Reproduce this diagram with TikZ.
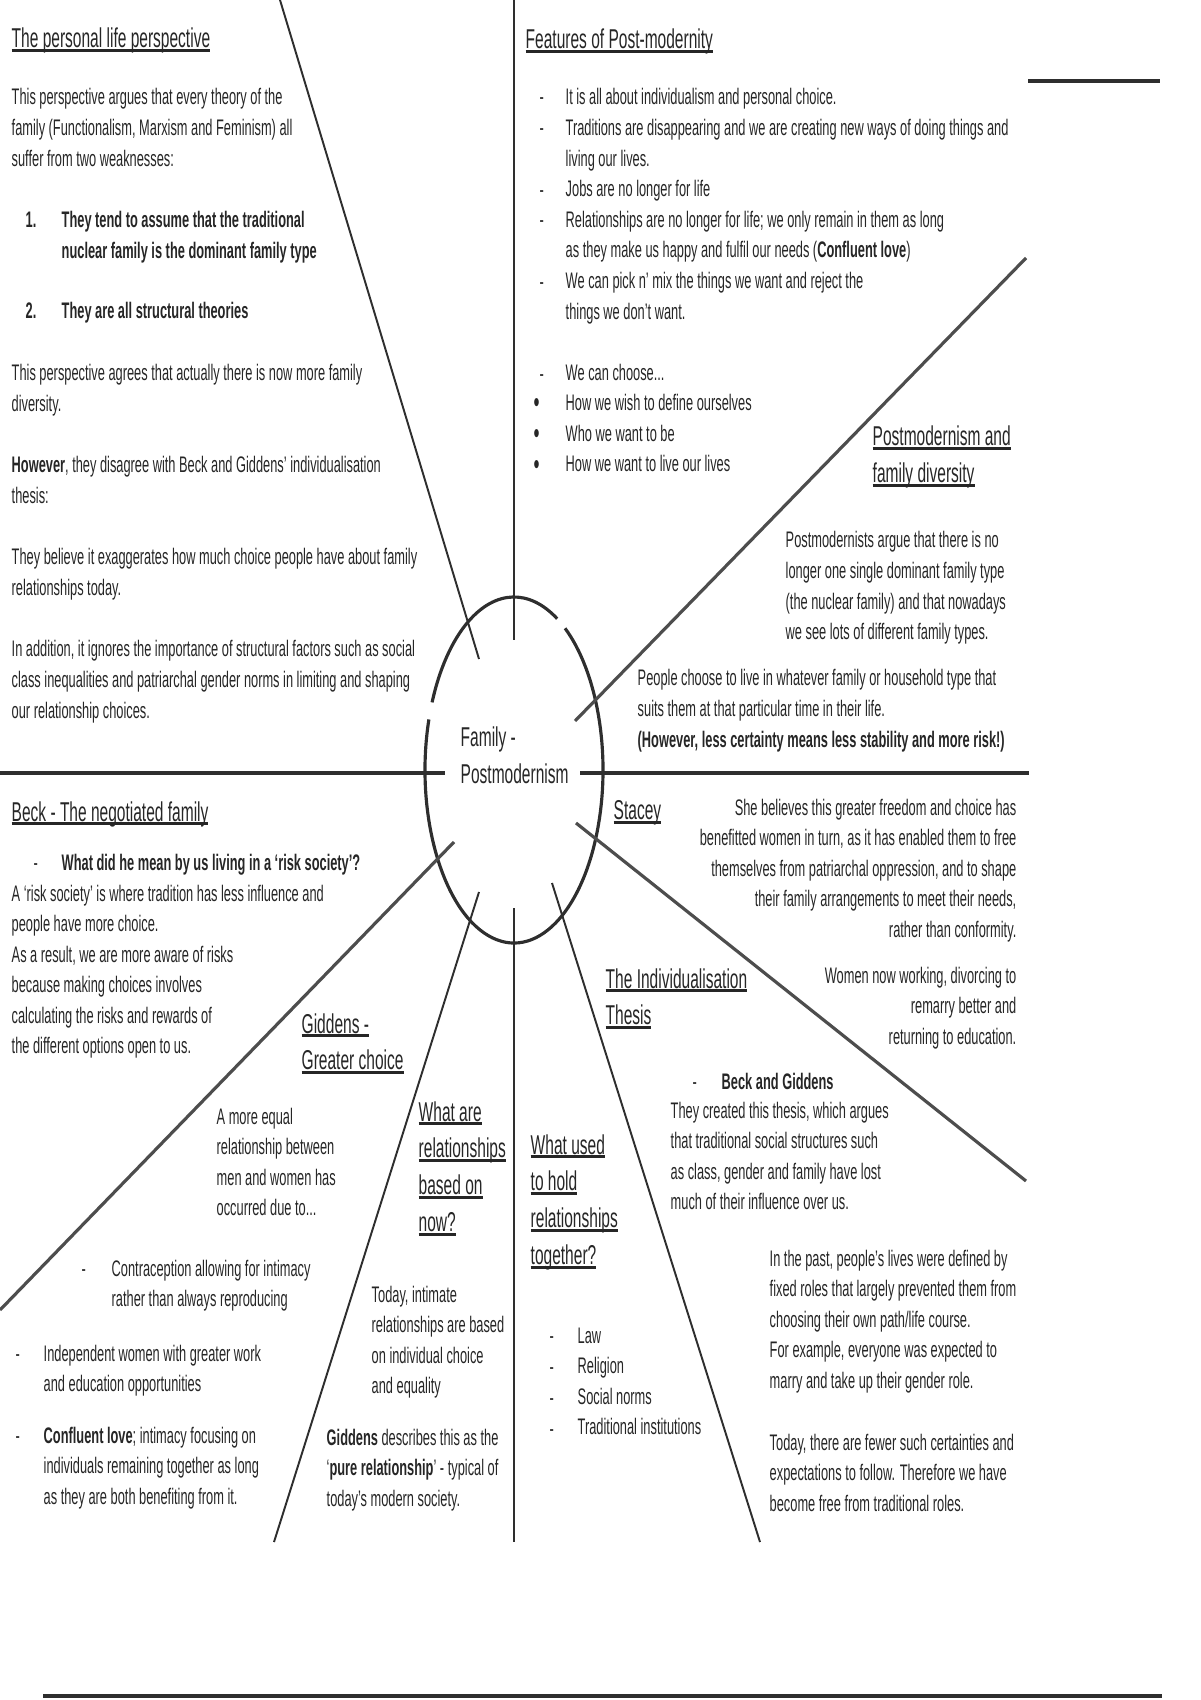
\documentclass[tikz,border=0pt]{standalone}
\usepackage{fontspec}
\setmainfont[FakeStretch=0.57]{Liberation Sans}
\usepackage{tikz}
\usetikzlibrary{positioning}
\definecolor{ink}{HTML}{262626}
\definecolor{wire}{HTML}{2E2E2E}
\newlength\ulhwd
\newcommand\ulh[1]{\settowidth\ulhwd{#1}\rlap{\rule[-1.1pt]{\ulhwd}{0.8pt}}#1}
% first line of a block sits on the node's base
\newcommand\leftlines[1]{\begin{tabular}[t]{@{}l@{}}#1\end{tabular}}
\newcommand\rightlines[1]{\begin{tabular}[t]{@{}r@{}}#1\end{tabular}}

\begin{document}
\begin{tikzpicture}[x=0.1mm,y=-0.1mm,
    bodytext/.style={anchor=base west,inner sep=0pt,text=ink,
                     font=\fontsize{6.4}{8.7}\selectfont},
    boldtext/.style={bodytext,font=\fontsize{6.4}{8.7}\selectfont\bfseries},
    bodytextr/.style={bodytext,anchor=base east},
    headtext/.style={bodytext,font=\fontsize{7.75}{10.5}\selectfont},
    dotmark/.style={bodytext,font=\fontsize{8.5}{8.7}\selectfont},
    spokeline/.style={wire,line width=0.55pt},
    diagline/.style={wire!85,line width=0.9pt},
    crossline/.style={wire,line width=1.2pt},
    ringline/.style={wire,line width=0.9pt}]
    \useasboundingbox (0,0) rectangle (1200,1700);

    % hub and spokes
    \coordinate (hub) at (514,770);
    \draw[ringline] ([shift={(61:8.9mm and 17.3mm)}]hub)
        arc[start angle=61,end angle=157,x radius=8.9mm,y radius=17.3mm];
    \draw[ringline] ([shift={(163:8.9mm and 17.3mm)}]hub)
        arc[start angle=163,end angle=415,x radius=8.9mm,y radius=17.3mm];
    \node[headtext] (hubtext) at (460,747) {\leftlines{Family -\\Postmodernism}};

    \coordinate (nA) at (514,0);     \coordinate (nAi) at (514,640);
    \coordinate (dA) at (280,0);     \coordinate (dAi) at (479,659);
    \coordinate (dB) at (1026,258);  \coordinate (dBi) at (575,721);
    \coordinate (cs1) at (1028,81);  \coordinate (cs2) at (1160,81);
    \coordinate (hL) at (0,773);     \coordinate (hLi) at (445,773);
    \coordinate (hR) at (1029,773);  \coordinate (hRi) at (580,773);
    \coordinate (dD) at (1026,1181); \coordinate (dDi) at (576,823);
    \coordinate (dE) at (760,1542);  \coordinate (dEi) at (552,883);
    \coordinate (sF) at (514,1542);  \coordinate (sFi) at (514,908);
    \coordinate (dG) at (274,1542);  \coordinate (dGi) at (479,892);
    \coordinate (dH) at (0,1310);    \coordinate (dHi) at (454,842);
    \coordinate (base1) at (43,1696); \coordinate (base2) at (1162,1696);

    \draw[spokeline] (nA)--(nAi);
    \draw[spokeline] (dA)--(dAi);
    \draw[diagline] (dB)--(dBi);
    \draw[crossline] (cs1)--(cs2);
    \draw[crossline] (hL)--(hLi);
    \draw[crossline] (hRi)--(hR);
    \draw[diagline] (dDi)--(dD);
    \draw[spokeline] (dEi)--(dE);
    \draw[spokeline] (sFi)--(sF);
    \draw[spokeline] (dGi)--(dG);
    \draw[diagline] (dHi)--(dH);
    \draw[wire,line width=1.3pt] (base1)--(base2);

    % the personal life perspective
    \node[headtext] (plhead) at (11,48) {\ulh{The personal life perspective}};
    \node[bodytext] (plintro) at (11,105) {\leftlines{This perspective argues that every theory of the\\
        family (Functionalism, Marxism and Feminism) all\\suffer from two weaknesses:}};
    \node[boldtext] (pln1) at (25,228) {1.};
    \node[boldtext] (plw1) at (61,228) {\leftlines{They tend to assume that the traditional\\
        nuclear family is the dominant family type}};
    \node[boldtext] (pln2) at (25,319) {2.};
    \node[boldtext] (plw2) at (61,319) {They are all structural theories};
    \node[bodytext] (plagree) at (11,381) {\leftlines{This perspective agrees that actually there is now more family\\diversity.}};
    \node[bodytext] (plhow) at (11,473) {\leftlines{\textbf{However}, they disagree with Beck and Giddens' individualisation\\thesis:}};
    \node[bodytext] (plbel) at (11,565) {\leftlines{They believe it exaggerates how much choice people have about family\\
        relationships today.}};
    \node[bodytext] (pladd) at (11,657) {\leftlines{In addition, it ignores the importance of structural factors such as social\\
        class inequalities and patriarchal gender norms in limiting and shaping\\our relationship choices.}};

    % features of post-modernity
    \node[headtext] (fthead) at (525,49) {\ulh{Features of Post-modernity}};
    \node[bodytext] (ftlist) at (565,105) {\leftlines{It is all about individualism and personal choice.\\
        Traditions are disappearing and we are creating new ways of doing things and\\
        living our lives.\\
        Jobs are no longer for life\\
        Relationships are no longer for life; we only remain in them as long\\
        as they make us happy and fulfil our needs (\textbf{Confluent love})\\
        We can pick n' mix the things we want and reject the\\
        things we don't want.\\[8.7pt]
        We can choose...\\
        How we wish to define ourselves\\
        Who we want to be\\
        How we want to live our lives}};
    \foreach \k in {0,1,3,4,6,9}
        \node[bodytext] (ftd\k) at (539,105+30.7*\k) {-};
    \foreach \k in {10,11,12}
        \node[dotmark] (ftb\k) at (533,106+30.7*\k) {\textbullet};

    % postmodernism and family diversity
    \node[headtext] (pdhead) at (872,446) {\leftlines{\ulh{Postmodernism and}\\\ulh{family diversity}}};
    \node[bodytext] (pdtext) at (785,548) {\leftlines{Postmodernists argue that there is no\\
        longer one single dominant family type\\(the nuclear family) and that nowadays\\
        we see lots of different family types.}};
    \node[bodytext] (pdpeople) at (637,686) {\leftlines{People choose to live in whatever family or household type that\\
        suits them at that particular time in their life.\\
        \textbf{(However, less certainty means less stability and more risk!)}}};

    % beck
    \node[headtext] (bkhead) at (11,821) {\ulh{Beck - The negotiated family}};
    \node[bodytext] (bkdash) at (33,870) {-};
    \node[boldtext] (bkq) at (61,870) {What did he mean by us living in a `risk society'?};
    \node[bodytext] (bktext) at (11,901) {\leftlines{A `risk society' is where tradition has less influence and\\
        people have more choice.\\As a result, we are more aware of risks\\
        because making choices involves\\calculating the risks and rewards of\\
        the different options open to us.}};

    % giddens
    \node[headtext] (gdhead) at (301,1033) {\leftlines{\ulh{Giddens -}\\\ulh{Greater choice}}};
    \node[bodytext] (gdtext) at (216,1124) {\leftlines{A more equal\\relationship between\\men and women has\\occurred due to...}};
    \node[bodytext] (gdd1) at (81,1276) {-};
    \node[bodytext] (gdcon) at (111,1276) {\leftlines{Contraception allowing for intimacy\\rather than always reproducing}};
    \node[bodytext] (gdd2) at (15,1361) {-};
    \node[bodytext] (gdind) at (43,1361) {\leftlines{Independent women with greater work\\and education opportunities}};
    \node[bodytext] (gdd3) at (15,1443) {-};
    \node[bodytext] (gdlove) at (43,1443) {\leftlines{\textbf{Confluent love}; intimacy focusing on\\
        individuals remaining together as long\\as they are both benefiting from it.}};

    % relationships now
    \node[headtext] (rnhead) at (418,1121) {\leftlines{\ulh{What are}\\\ulh{relationships}\\\ulh{based on}\\\ulh{now?}}};
    \node[bodytext] (rntext) at (371,1302) {\leftlines{Today, intimate\\relationships are based\\on individual choice\\and equality}};
    \node[bodytext] (rnpure) at (326,1445) {\leftlines{\textbf{Giddens} describes this as the\\
        `\textbf{pure relationship}' - typical of\\today's modern society.}};

    % what held relationships together
    \node[headtext] (hthead) at (530,1154) {\leftlines{\ulh{What used}\\\ulh{to hold}\\\ulh{relationships}\\\ulh{together?}}};
    \foreach \k in {0,...,3}
        \node[bodytext] (htd\k) at (549,1343+31*\k) {-};
    \node[bodytext] (htlist) at (577,1343) {\leftlines{Law\\Religion\\Social norms\\Traditional institutions}};

    % stacey
    \node[headtext] (sthead) at (613,820) {\ulh{Stacey}};
    \node[bodytextr] (sttext) at (1017,815) {\rightlines{She believes this greater freedom and choice has\\
        benefitted women in turn, as it has enabled them to free\\
        themselves from patriarchal oppression, and to shape\\
        their family arrangements to meet their needs,\\rather than conformity.}};
    \node[bodytextr] (stwomen) at (1017,983) {\rightlines{Women now working, divorcing to\\remarry better and\\returning to education.}};

    % the individualisation thesis
    \node[headtext] (inhead) at (605,988) {\leftlines{\ulh{The Individualisation}\\\ulh{Thesis}}};
    \node[bodytext] (indash) at (692,1089) {-};
    \node[boldtext] (inbg) at (721,1089) {Beck and Giddens};
    \node[bodytext] (intext) at (670,1118) {\leftlines{They created this thesis, which argues\\
        that traditional social structures such\\as class, gender and family have lost\\
        much of their influence over us.}};
    \node[bodytext] (inpast) at (769,1266) {\leftlines{In the past, people's lives were defined by\\
        fixed roles that largely prevented them from\\choosing their own path/life course.\\
        For example, everyone was expected to\\marry and take up their gender role.}};
    \node[bodytext] (intoday) at (769,1450) {\leftlines{Today, there are fewer such certainties and\\
        expectations to follow. Therefore we have\\become free from traditional roles.}};
\end{tikzpicture}
\end{document}
